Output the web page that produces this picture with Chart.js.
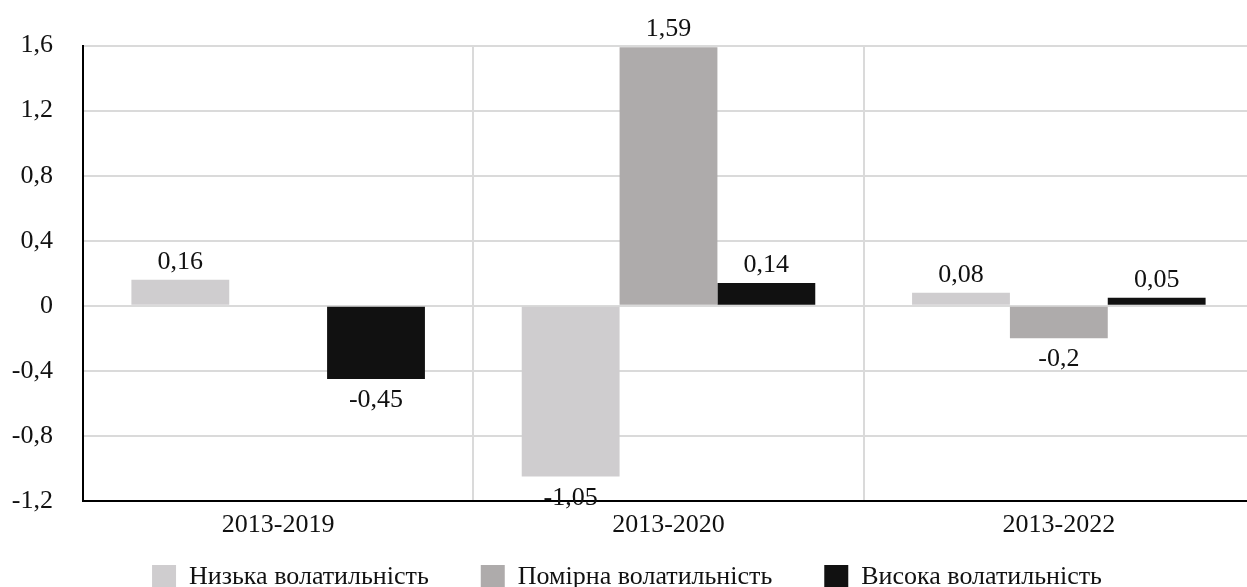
<!DOCTYPE html>
<html>
<head>
<meta charset="utf-8">
<script src="https://cdn.jsdelivr.net/npm/chart.js@4.4.1/dist/chart.umd.min.js"></script>
<style>
  html, body { margin: 0; padding: 0; background: #fff; overflow: hidden; }
  #wrap { width: 1256px; height: 600px; position: relative; }
</style>
</head>
<body>
<div id="wrap"><canvas id="chart"></canvas></div>
<script>
var periods = ["2013-2019", "2013-2020", "2013-2022"];
var lowVol = [0.16, -1.05, 0.08];
var midVol = [null, 1.59, -0.2];
var highVol = [-0.45, 0.14, 0.05];
var seriesNames = ["Низька волатильність", "Помірна волатильність", "Висока волатильність"];

var FONT = "'Liberation Serif', 'Times New Roman', serif";
var TEXT = "#111111";

function fmt(v) {
  return String(Math.round(v * 100) / 100).replace('.', ',');
}

// подписи значений над / под столбцами
var valueLabels = {
  id: 'valueLabels',
  afterDatasetsDraw: function (chart) {
    var ctx = chart.ctx;
    ctx.save();
    ctx.font = "26px " + FONT;
    ctx.fillStyle = TEXT;
    ctx.textAlign = 'center';
    ctx.textBaseline = 'alphabetic';
    chart.data.datasets.forEach(function (ds, i) {
      var meta = chart.getDatasetMeta(i);
      meta.data.forEach(function (bar, j) {
        var v = ds.data[j];
        if (v === null || v === undefined) return;
        var y = v >= 0 ? bar.y - 11 : bar.y + 28;
        ctx.fillText(fmt(v), bar.x, y);
      });
    });
    ctx.restore();
  }
};

var ctx = document.getElementById('chart');
new Chart(ctx, {
  type: 'bar',
  data: {
    labels: periods,
    datasets: [
      { label: seriesNames[0], data: lowVol, backgroundColor: "#cfcdcf" },
      { label: seriesNames[1], data: midVol, backgroundColor: "#aeabab" },
      { label: seriesNames[2], data: highVol, backgroundColor: "#111111" }
    ]
  },
  options: {
    responsive: true,
    maintainAspectRatio: false,
    animation: false,
    categoryPercentage: 0.752,
    barPercentage: 1,
    layout: { padding: { top: 45, left: 0, right: 2, bottom: 0 } },
    plugins: {
      tooltip: { enabled: false },
      legend: {
        position: 'bottom',
        labels: {
          boxWidth: 24,
          boxHeight: 24,
          padding: 52,
          color: TEXT,
          font: { family: FONT, size: 26 }
        }
      }
    },
    scales: {
      x: {
        grid: { color: "#dadada", lineWidth: 2, drawTicks: false, offset: true },
        border: { color: "#000", width: 2 },
        ticks: { color: TEXT, padding: 9, font: { family: FONT, size: 26 } },
        afterFit: function (s) {
          s.height = 11;
          // легенда стоит вплотную, подписи не обрезать
          s._computeLabelArea = function () { return undefined; };
        }
      },
      y: {
        min: -1.2,
        max: 1.6,
        grid: { color: "#dadada", lineWidth: 2, drawTicks: false },
        border: { color: "#000", width: 2 },
        ticks: {
          stepSize: 0.4,
          padding: 30,
          color: TEXT,
          font: { family: FONT, size: 26 },
          callback: function (v) { return fmt(Math.round(v * 10) / 10); }
        },
        afterFit: function (s) { s.width = 83; }
      }
    }
  },
  plugins: [valueLabels]
});
</script>
</body>
</html>
